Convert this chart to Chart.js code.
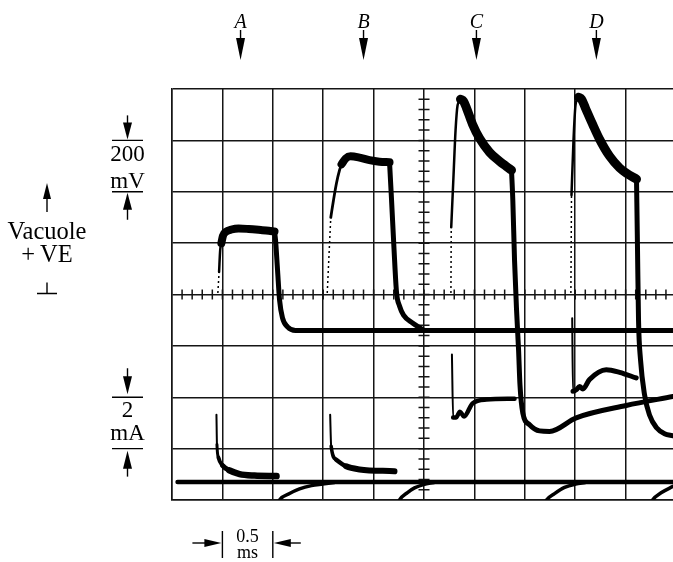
<!DOCTYPE html>
<html>
<head>
<meta charset="utf-8">
<script src="https://cdn.jsdelivr.net/npm/chart.js@4.4.1/dist/chart.umd.min.js"></script>
<style>
    html, body { margin: 0; padding: 0; background: #fff; }
    canvas { display: block; }
</style>
</head>
<body>
<canvas id="scope" width="673" height="562"></canvas>
<script>
// ---------------- SCREEN (0.5 ms / div, 200 mV / div, 2 mA / div) ----------------
const X_MIN = 0, X_MAX = 4.97;            // ms, right edge of the photo cuts the last division
const MV_MIN = -800, MV_MAX = 800;         // mV, upper beam
const MA_MIN = -0.7, MA_MAX = 15.3;        // mA, current beam zero sits near the bottom

// ---------------- MARKERS ----------------
const markerLabels = ["A", "B", "C", "D"];
const markerMs = [0.68, 1.90, 3.02, 4.21];

// ---------------- VOLTAGE: PULSE A (ms / mV) ----------------
const dotA_ms = [0.455, 0.467];
const dotA_mV = [6, 88];
const upA_ms = [0.467, 0.478, 0.490];
const upA_mV = [88, 173, 200];
const topA_ms = [0.490, 0.505, 0.535, 0.590, 0.660, 0.760, 0.880, 0.960, 1.017];
const topA_mV = [200, 228, 244, 253, 257, 255, 251, 248, 245];
const downA_ms = [1.017, 1.027, 1.047, 1.067, 1.096, 1.146, 1.225, 4.97];
const downA_mV = [245, 212, 95, -21, -91, -126, -140, -140];

// ---------------- VOLTAGE: PULSE B ----------------
const dotB_ms = [1.540, 1.575];
const dotB_mV = [6, 300];
const upB_ms = [1.575, 1.602, 1.632, 1.662, 1.682];
const upB_mV = [300, 367, 434, 484, 507];
const topB_ms = [1.682, 1.722, 1.771, 1.860, 1.959, 2.058, 2.158];
const topB_mV = [507, 529, 538, 533, 523, 517, 515];
const downB_ms = [2.158, 2.178, 2.203, 2.227, 2.257, 2.297, 2.386, 2.485];
const downB_mV = [515, 367, 173, 10, -45, -80, -111, -136];

// ---------------- VOLTAGE: PULSE C ----------------
const dotC_ms = [2.767, 2.770];
const dotC_mV = [6, 262];
const upC_ms = [2.770, 2.793, 2.813, 2.833, 2.862];
const upC_mV = [262, 465, 640, 737, 760];
const decC_ms = [2.862, 2.892, 2.922, 2.981, 3.051, 3.150, 3.249, 3.319, 3.368];
const decC_mV = [760, 752, 725, 663, 608, 554, 519, 498, 484];
const downC_ms = [3.368, 3.381, 3.398, 3.418, 3.438, 3.452, 3.480, 3.547, 3.646, 3.745, 4.010, 4.506, 4.97];
const downC_mV = [484, 367, 134, -60, -216, -352, -461, -507, -531, -533, -480, -432, -397];

// ---------------- VOLTAGE: PULSE D ----------------
const dotD_ms = [3.957, 3.963];
const dotD_mV = [6, 387];
const upD_ms = [3.963, 3.983, 4.003, 4.033];
const upD_mV = [387, 601, 737, 768];
const decD_ms = [4.033, 4.063, 4.102, 4.172, 4.241, 4.340, 4.440, 4.509, 4.608];
const decD_mV = [768, 760, 725, 663, 605, 539, 493, 472, 449];
const downD_ms = [4.608, 4.618, 4.628, 4.648, 4.688, 4.737, 4.807, 4.886, 4.97];
const downD_mV = [449, 173, -99, -255, -391, -469, -519, -542, -550];

// ---------------- CURRENT (ms / mA) ----------------
const baseI_ms = [0.055, 4.97];
const baseI_mA = [0, 0];
const curA_ms = [0.441, 0.446, 0.461, 0.502, 0.570, 0.670, 0.818, 1.037];
const curA_mA = [2.62, 1.46, 0.95, 0.64, 0.45, 0.31, 0.25, 0.23];
const curB_ms = [1.569, 1.579, 1.629, 1.728, 1.860, 2.207];
const curB_mA = [2.62, 1.39, 0.87, 0.61, 0.49, 0.42];
const curC_ms = [2.777, 2.789, 2.817, 2.857, 2.897, 2.981, 3.120, 3.398];
const curC_mA = [4.96, 2.51, 2.51, 2.74, 2.55, 3.06, 3.21, 3.24];
const curD_ms = [3.970, 3.978, 4.013, 4.043, 4.076, 4.142, 4.308, 4.440, 4.605];
const curD_mA = [6.38, 3.53, 3.60, 3.72, 3.62, 3.99, 4.37, 4.27, 4.05];

// off-transients coming up from below the screen
const arc1_ms = [1.027, 1.067, 1.166, 1.265, 1.384, 1.493, 1.612];
const arc1_mA = [-1.07, -0.70, -0.45, -0.27, -0.14, -0.08, -0.02];
const arc2_ms = [2.217, 2.257, 2.336, 2.406, 2.495, 2.600];
const arc2_mA = [-1.07, -0.70, -0.41, -0.23, -0.10, -0.02];
const arc3_ms = [3.666, 3.715, 3.795, 3.894, 4.003, 4.100];
const arc3_mA = [-1.07, -0.70, -0.45, -0.21, -0.08, -0.02];
const arc4_ms = [4.717, 4.767, 4.856, 4.97];
const arc4_mA = [-1.07, -0.70, -0.41, -0.17];

// ---------------- HELPERS ----------------
const INK = "#000";
const GRID = "#151515";
const SERIF = '"Liberation Serif", "DejaVu Serif", serif';

function pts(xs, ys) {
    return xs.map((x, i) => ({ x: x, y: ys[i] }));
}

function trace(xs, ys, width, axis, extra) {
    return Object.assign({
        data: pts(xs, ys),
        yAxisID: axis,
        borderColor: INK,
        borderWidth: width,
        pointRadius: 0,
        cubicInterpolationMode: "monotone",
        borderCapStyle: "round",
        borderJoinStyle: "round",
        clip: 0
    }, extra || {});
}

function dotted(xs, ys) {
    return trace(xs, ys, 1.5, "y", { borderDash: [2, 3], borderCapStyle: "butt" });
}

// spike is a thin line, the settling tail gets thicker as the beam slows
function widening(widths, last) {
    return { segment: { borderWidth: c => (c.p0DataIndex < widths.length ? widths[c.p0DataIndex] : last) } };
}

function vArrow(ctx, x, tipY, dir, headLen, halfW, shaft) {
    ctx.beginPath();
    ctx.moveTo(x, tipY);
    ctx.lineTo(x - halfW, tipY - dir * headLen);
    ctx.lineTo(x + halfW, tipY - dir * headLen);
    ctx.closePath();
    ctx.fill();
    ctx.beginPath();
    ctx.moveTo(x, tipY - dir * (headLen - 1));
    ctx.lineTo(x, tipY - dir * (headLen + shaft));
    ctx.stroke();
}

function hArrow(ctx, tipX, y, dir, headLen, halfW, shaft) {
    ctx.beginPath();
    ctx.moveTo(tipX, y);
    ctx.lineTo(tipX - dir * headLen, y - halfW);
    ctx.lineTo(tipX - dir * headLen, y + halfW);
    ctx.closePath();
    ctx.fill();
    ctx.beginPath();
    ctx.moveTo(tipX - dir * (headLen - 1), y);
    ctx.lineTo(tipX - dir * (headLen + shaft), y);
    ctx.stroke();
}

// ---------------- CENTRE AXES WITH MINOR TICKS ----------------
const centreTicks = {
    id: "centreTicks",
    beforeDatasetsDraw(chart) {
        const { ctx, scales: { x, y } } = chart;
        const y0 = y.getPixelForValue(0);
        const x0 = x.getPixelForValue(2.5);
        ctx.save();
        ctx.strokeStyle = GRID;
        ctx.lineWidth = 1.5;
        ctx.beginPath();
        for (let i = 1; i < 50; i++) {
            const px = x.getPixelForValue(i * 0.1);
            ctx.moveTo(px, y0 - 5);
            ctx.lineTo(px, y0 + 5);
        }
        for (let i = -19; i < 20; i++) {
            const py = y.getPixelForValue(i * 40);
            ctx.moveTo(x0 - 5.5, py);
            ctx.lineTo(x0 + 5.5, py);
        }
        ctx.stroke();
        ctx.restore();
    }
};

// ---------------- LABELS, ARROWS, CALIBRATION BARS ----------------
const labels = {
    id: "labels",
    afterDraw(chart) {
        const { ctx, scales: { x, y } } = chart;
        ctx.save();
        ctx.fillStyle = INK;
        ctx.strokeStyle = INK;
        ctx.lineWidth = 1.4;
        ctx.textAlign = "center";

        // A B C D markers
        ctx.font = "italic 20px " + SERIF;
        markerLabels.forEach((lab, i) => {
            const px = x.getPixelForValue(markerMs[i]);
            ctx.fillText(lab, px, 28);
            vArrow(ctx, px, 60, 1, 22, 4.5, 8);
        });

        // 200 mV bar
        ctx.font = "23px " + SERIF;
        const bx = 127.5;
        let t = y.getPixelForValue(600), b = y.getPixelForValue(400);
        ctx.beginPath();
        ctx.moveTo(112, t); ctx.lineTo(143, t);
        ctx.moveTo(112, b); ctx.lineTo(143, b);
        ctx.stroke();
        vArrow(ctx, bx, t - 1, 1, 17, 4.5, 7);
        vArrow(ctx, bx, b + 1, -1, 17, 4.5, 10);
        ctx.fillText("200", bx, t + 21);
        ctx.fillText("mV", bx, b - 4);

        // 2 mA bar
        t = y.getPixelForValue(-400); b = y.getPixelForValue(-600);
        ctx.beginPath();
        ctx.moveTo(112, t); ctx.lineTo(143, t);
        ctx.moveTo(112, b); ctx.lineTo(143, b);
        ctx.stroke();
        vArrow(ctx, bx, t - 3, 1, 18, 4.5, 8);
        vArrow(ctx, bx, b + 2, -1, 18, 4.5, 8);
        ctx.fillText("2", bx, t + 20);
        ctx.fillText("mA", bx, b - 9);

        // Vacuole +VE and ground mark at 0 mV
        const vx = 47, y0 = y.getPixelForValue(0);
        vArrow(ctx, vx, 183, -1, 16, 4, 13);
        ctx.font = "24.5px " + SERIF;
        ctx.fillText("Vacuole", vx, 239);
        ctx.fillText("+\u2009VE", vx, 262);
        ctx.beginPath();
        ctx.moveTo(vx, y0 - 12); ctx.lineTo(vx, y0 - 1);
        ctx.moveTo(vx - 10, y0 - 1); ctx.lineTo(vx + 10, y0 - 1);
        ctx.stroke();

        // 0.5 ms bar
        const l = x.getPixelForValue(0.5), r = x.getPixelForValue(1.0), ay = 543;
        ctx.beginPath();
        ctx.moveTo(l, 531); ctx.lineTo(l, 558);
        ctx.moveTo(r, 531); ctx.lineTo(r, 558);
        ctx.stroke();
        hArrow(ctx, l - 1, ay, 1, 17, 4, 12);
        hArrow(ctx, r + 1, ay, -1, 17, 4, 10);
        ctx.font = "18px " + SERIF;
        ctx.fillText("0.5", (l + r) / 2, 542);
        ctx.fillText("ms", (l + r) / 2, 558);

        ctx.restore();
    }
};

// ---------------- CHART ----------------
new Chart(document.getElementById("scope"), {
    type: "line",
    data: {
        datasets: [
            dotted(dotA_ms, dotA_mV),
            dotted(dotB_ms, dotB_mV),
            dotted(dotC_ms, dotC_mV),
            dotted(dotD_ms, dotD_mV),
            trace(upA_ms, upA_mV, 2.5, "y"),
            trace(topA_ms, topA_mV, 8, "y"),
            trace(downA_ms, downA_mV, 5, "y"),
            trace(upB_ms, upB_mV, 2.8, "y"),
            trace(topB_ms, topB_mV, 8, "y"),
            trace(downB_ms, downB_mV, 5, "y"),
            trace(upC_ms, upC_mV, 2.5, "y"),
            trace(decC_ms, decC_mV, 9, "y"),
            trace(downC_ms, downC_mV, 5, "y"),
            trace(upD_ms, upD_mV, 2.5, "y"),
            trace(decD_ms, decD_mV, 9, "y"),
            trace(downD_ms, downD_mV, 5, "y"),
            trace(baseI_ms, baseI_mA, 4.5, "yI"),
            trace(curA_ms, curA_mA, 6, "yI", widening([2, 3, 4, 5], 6.5)),
            trace(curB_ms, curB_mA, 6, "yI", widening([2, 3.5, 4.5], 6)),
            trace(curC_ms, curC_mA, 5, "yI", widening([2], 4.5)),
            trace(curD_ms, curD_mA, 5, "yI", widening([2], 5)),
            trace(arc1_ms, arc1_mA, 3.5, "yI"),
            trace(arc2_ms, arc2_mA, 3.5, "yI"),
            trace(arc3_ms, arc3_mA, 3.5, "yI"),
            trace(arc4_ms, arc4_mA, 3.5, "yI")
        ]
    },
    options: {
        responsive: false,
        animation: false,
        devicePixelRatio: 1,
        layout: { padding: { left: 172, top: 89, right: 0, bottom: 62 } },
        plugins: {
            legend: { display: false },
            tooltip: { enabled: false }
        },
        scales: {
            x: {
                type: "linear",
                min: X_MIN,
                max: X_MAX,
                ticks: { display: false, stepSize: 0.5, includeBounds: false },
                grid: { color: GRID, lineWidth: 1.5, drawTicks: false },
                border: { display: true, color: GRID, width: 1.5 }
            },
            y: {
                type: "linear",
                min: MV_MIN,
                max: MV_MAX,
                ticks: { display: false, stepSize: 200 },
                grid: { color: GRID, lineWidth: 1.5, drawTicks: false },
                border: { display: true, color: GRID, width: 1.5 }
            },
            yI: {
                type: "linear",
                display: false,
                min: MA_MIN,
                max: MA_MAX
            }
        }
    },
    plugins: [centreTicks, labels]
});
</script>
</body>
</html>
